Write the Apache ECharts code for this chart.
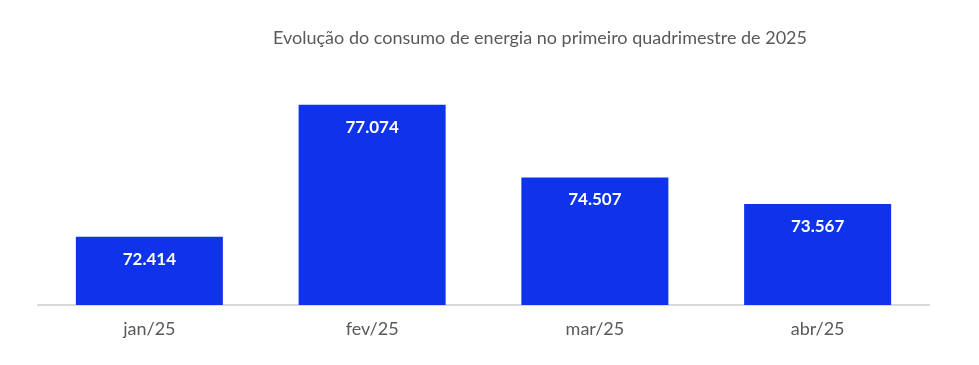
<!DOCTYPE html>
<html><head><meta charset="utf-8">
<script src="https://cdn.jsdelivr.net/npm/echarts@6/dist/echarts.min.js"></script>
<style>html,body{margin:0;padding:0;background:#fff}#c{width:979px;height:365px}</style>
</head><body><div id="c"></div>
<script>
const categories = ['jan/25', 'fev/25', 'mar/25', 'abr/25'];
const consumo = [72414, 77074, 74507, 73567];
const titleText = 'Evolução do consumo de energia no primeiro quadrimestre de 2025';

function fmt(v) { return String(v).replace(/\B(?=(\d{3})+(?!\d))/g, '.'); }

const chart = echarts.init(document.getElementById('c'));
chart.setOption({
  animation: false,
  backgroundColor: '#fff',
  title: {
    text: titleText, left: 535, textAlign: 'center', top: 24,
    textStyle: { fontFamily: 'Lato', fontSize: 18, fontWeight: 'normal', color: '#595959' }
  },
  grid: { left: 38, right: 50, top: 22, bottom: 60 },
  xAxis: {
    type: 'category', data: categories,
    axisLine: { lineStyle: { color: '#D9D9D9', width: 2 } },
    axisTick: { show: false },
    axisLabel: { margin: 15, fontFamily: 'Lato', fontSize: 18, color: '#595959' }
  },
  yAxis: {
    type: 'value', min: 70000, max: 80000, show: false,
    splitLine: { show: false }
  },
  series: [{
    type: 'bar', data: consumo, barCategoryGap: '34%',
    itemStyle: { color: '#0F33EB' },
    label: {
      show: true, position: 'insideTop', distance: 14,
      formatter: p => fmt(p.value),
      fontFamily: 'Lato', fontSize: 17, fontWeight: 'bold', color: '#fff'
    }
  }]
});
</script></body></html>
